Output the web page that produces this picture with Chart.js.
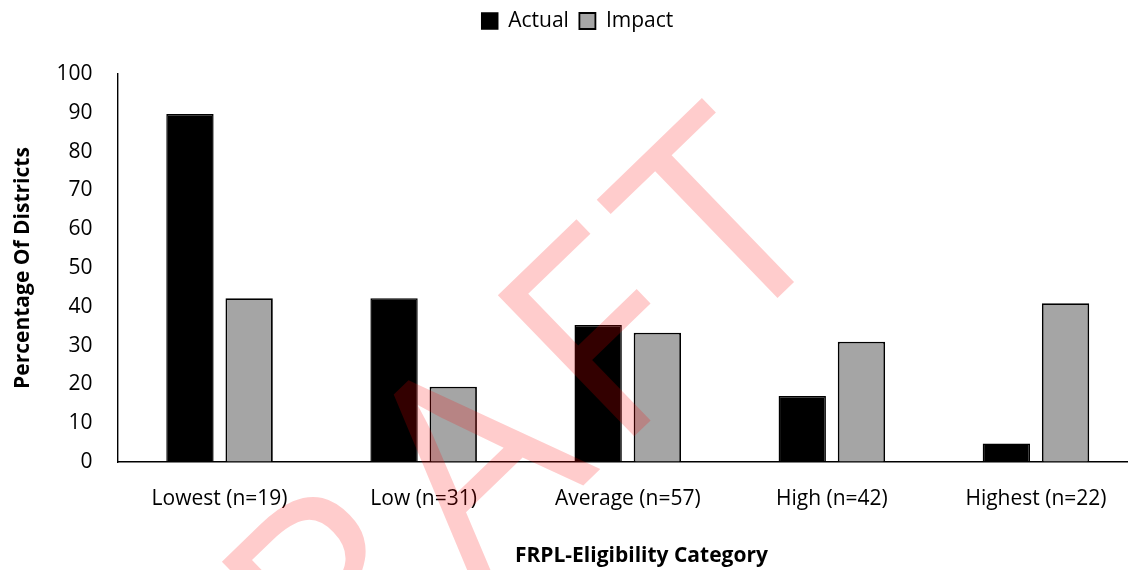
<!DOCTYPE html>
<html lang="en">

<head>
    <meta charset="UTF-8">
    <meta name="viewport" content="width=device-width, initial-scale=1.0">
    <script src="https://cdn.jsdelivr.net/npm/chart.js@4.4.1/dist/chart.umd.min.js"></script>
    <title>FRPL-Eligibility Category</title>
    <style>
        html, body { margin: 0; padding: 0; background: #fff; overflow: hidden; }
        #wrap { width: 1138px; height: 570px; }
    </style>
</head>

<body>
    <div id="wrap">
        <canvas id="grafico"></canvas>
    </div>

<script>
    // dados
    const categorias = ['Lowest (n=19)', 'Low (n=31)', 'Average (n=57)', 'High (n=42)', 'Highest (n=22)'];
    const actual = [89.7, 42.2, 35.3, 17.0, 4.8];
    const impact = [42.2, 19.4, 33.3, 31.0, 40.9];
    const ticksY = [0, 10, 20, 30, 40, 50, 60, 70, 80, 90, 100];

    const fonte = "'Open Sans', 'Noto Sans', sans-serif";
    const tamanho = 21;

    // legenda mais alta para empurrar a area do grafico para baixo
    const legendaAltura = {
        id: 'legendaAltura',
        beforeInit(chart) {
            const fitOriginal = chart.legend.fit;
            chart.legend.fit = function () {
                fitOriginal.bind(chart.legend)();
                this.height = 74;
            };
        }
    };

    // marca d'agua "DRAFT" por cima das barras
    const marcaDagua = {
        id: 'marcaDagua',
        afterDraw(chart) {
            const ctx = chart.ctx;
            ctx.save();
            ctx.translate(181, 874);
            ctx.rotate(-44 * Math.PI / 180);
            ctx.font = `275px ${fonte}`;
            ctx.letterSpacing = '20px';
            ctx.fillStyle = 'rgba(255, 0, 0, 0.2)';
            ctx.textAlign = 'left';
            ctx.textBaseline = 'alphabetic';
            ctx.fillText('DRAFT', 0, 0);
            ctx.restore();
        }
    };

    const dados = {
        labels: categorias,
        datasets: [
            {
                label: 'Actual',
                data: actual,
                backgroundColor: '#000000',
                borderColor: '#000000',
                borderWidth: 1.5
            },
            {
                label: 'Impact',
                data: impact,
                backgroundColor: '#A5A5A5',
                borderColor: '#000000',
                borderWidth: 1.8
            }
        ]
    };

    const config = {
        type: 'bar',
        data: dados,
        plugins: [legendaAltura, marcaDagua],
        options: {
            responsive: true,
            maintainAspectRatio: false,
            animation: false,
            categoryPercentage: 0.58,
            barPercentage: 0.8,
            layout: { padding: { left: 17, right: 0, top: 0, bottom: 0 } },
            plugins: {
                tooltip: { enabled: false },
                legend: {
                    position: 'top',
                    labels: {
                        color: '#000',
                        font: { family: fonte, size: tamanho },
                        boxWidth: 16,
                        boxHeight: 16,
                        padding: 10.5
                    }
                }
            },
            scales: {
                x: {
                    grid: { display: true, drawOnChartArea: false, drawTicks: false },
                    border: { display: true, color: '#000', width: 1.4 },
                    ticks: {
                        color: '#000',
                        font: { family: fonte, size: tamanho },
                        padding: 24,
                        maxRotation: 0,
                        autoSkip: false
                    },
                    title: {
                        display: true,
                        text: '     FRPL-Eligibility Category',
                        color: '#000',
                        font: { family: fonte, size: tamanho, weight: 'bold' },
                        padding: { top: 0, bottom: 1 }
                    },
                    afterFit(scale) { scale.height = 108; }
                },
                y: {
                    min: 0,
                    max: 100,
                    afterBuildTicks(scale) { scale.ticks = ticksY.map(v => ({ value: v })); },
                    grid: { display: true, drawOnChartArea: false, drawTicks: false },
                    border: { display: true, color: '#000', width: 1.4 },
                    ticks: {
                        color: '#000',
                        font: { family: fonte, size: tamanho },
                        padding: 25
                    },
                    title: {
                        display: true,
                        text: 'Percentage Of Districts',
                        color: '#000',
                        font: { family: fonte, size: tamanho, weight: 'bold' },
                        padding: { top: -6.6, bottom: 0 }
                    },
                    afterFit(scale) { scale.width = 100.5; }
                }
            }
        }
    };

    new Chart(document.getElementById('grafico'), config);
</script>
</body>

</html>
